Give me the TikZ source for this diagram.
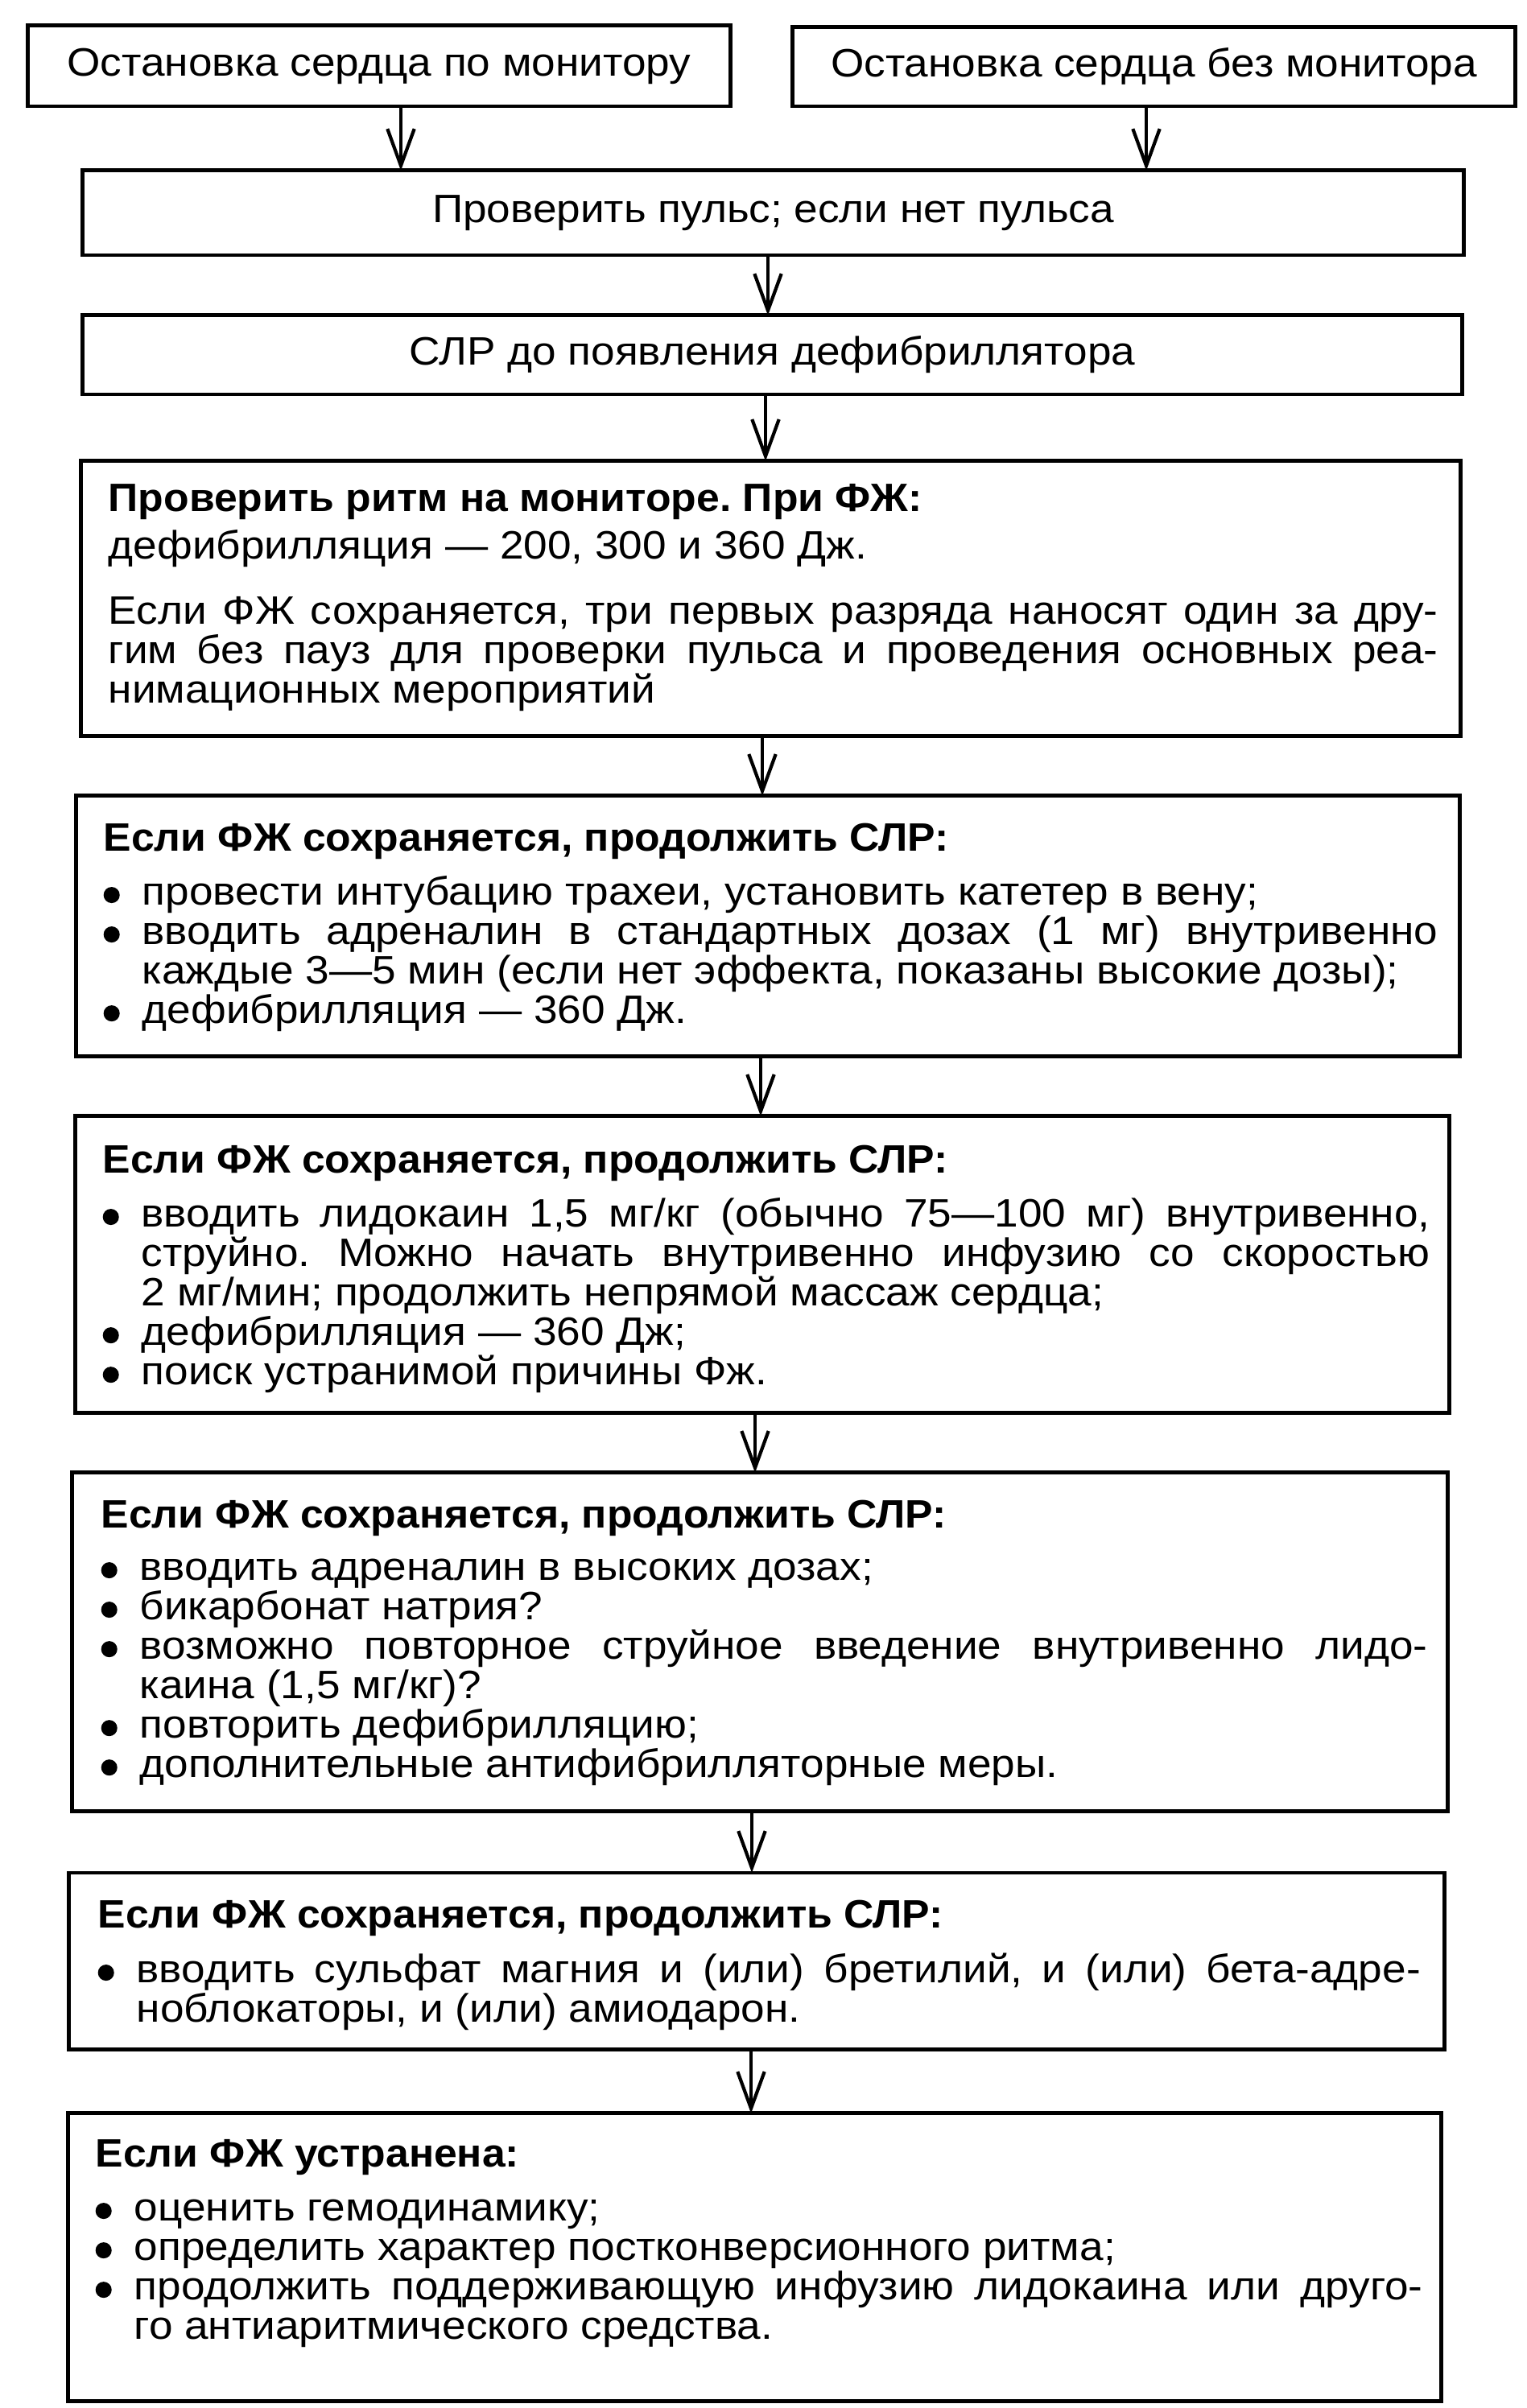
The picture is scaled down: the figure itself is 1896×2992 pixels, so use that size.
\documentclass[tikz,border=0pt]{standalone}
\usepackage{fontspec}
\setmainfont{Liberation Sans}[UprightFeatures={FakeStretch=1.08},BoldFeatures={FakeStretch=1.05}]
\usetikzlibrary{arrows.meta}
\newcommand\bulletdot{\tikz[baseline=0pt]\fill (2.85pt,3.4pt) circle[radius=2.85pt];}
\newcommand\itm{\par\hangindent=0.48cm\hangafter=1\makebox[0.48cm][l]{\bulletdot}}
\begin{document}
\begin{tikzpicture}[x=0.01cm,y=-0.01cm,
  box/.style={draw, line width=1.4pt, inner sep=0pt, outer sep=0pt},
  lbl/.style={font={\fontsize{14pt}{13.94pt}\selectfont}},
  txt/.style={font={\fontsize{14pt}{13.94pt}\selectfont\frenchspacing\lineskiplimit=-100pt\hyphenpenalty=10000\exhyphenpenalty=10000},
              inner sep=0pt, anchor=base west, text width=#1, align=justify},
  arr/.style={line width=1.2pt, -{Straight Barb[length=13pt,width=9.5pt]}}]
\useasboundingbox (0,0) rectangle (1896,2992);
% boxes
\node[box, lbl, minimum width=8.72cm, minimum height=1.00cm] (A) at (471,82) {Остановка сердца по монитору};
\node[box, lbl, minimum width=8.97cm, minimum height=0.98cm] (B) at (1433.5,83) {Остановка сердца без монитора};
\node[box, lbl, minimum width=17.15cm, minimum height=1.05cm] (C) at (960.5,264.5) {Проверить пульс; если нет пульса};
\node[box, lbl, minimum width=17.13cm, minimum height=0.98cm] (D) at (959.5,441) {СЛР до появления дефибриллятора};
\node[box, minimum width=17.13cm, minimum height=3.41cm] (E) at (957.5,743.5) {};
\node[box, minimum width=17.18cm, minimum height=3.23cm] (F) at (954,1150.5) {};
\node[box, minimum width=17.06cm, minimum height=3.68cm] (G) at (947,1571) {};
\node[box, minimum width=17.08cm, minimum height=4.20cm] (H) at (944,2040) {};
\node[box, minimum width=17.08cm, minimum height=2.19cm] (I) at (940,2436.5) {};
\node[box, minimum width=17.05cm, minimum height=3.57cm] (J) at (937.5,2804.5) {};
% texts
\node[txt=16.51cm] (Et) at (134,636) {{\bfseries Проверить ритм на мониторе. При ФЖ:}\par\vspace{0.09cm}
дефибрилляция — 200, 300 и 360 Дж.\par\vspace{0.32cm}
Если ФЖ сохраняется, три первых разряда наносят один за дру-\linebreak
гим без пауз для проверки пульса и проведения основных реа-\linebreak
нимационных мероприятий\par};
\node[txt=16.57cm] (Ft) at (128,1057) {{\bfseries Если ФЖ сохраняется, продолжить СЛР:}\par\vspace{0.18cm}
\itm провести интубацию трахеи, установить катетер в вену;
\itm вводить адреналин в стандартных дозах (1 мг) внутривенно\linebreak
каждые 3—5 мин (если нет эффекта, показаны высокие дозы);
\itm дефибрилляция — 360 Дж.\par};
\node[txt=16.48cm] (Gt) at (127,1457) {{\bfseries Если ФЖ сохраняется, продолжить СЛР:}\par\vspace{0.18cm}
\itm вводить лидокаин 1,5 мг/кг (обычно 75—100 мг) внутривенно,\linebreak
струйно. Можно начать внутривенно инфузию со скоростью\linebreak
2 мг/мин; продолжить непрямой массаж сердца;
\itm дефибрилляция — 360 Дж;
\itm поиск устранимой причины Фж.\par};
\node[txt=16.47cm] (Ht) at (125,1898) {{\bfseries Если ФЖ сохраняется, продолжить СЛР:}\par\vspace{0.16cm}
\itm вводить адреналин в высоких дозах;
\itm бикарбонат натрия?
\itm возможно повторное струйное введение внутривенно лидо-\linebreak
каина (1,5 мг/кг)?
\itm повторить дефибрилляцию;
\itm дополнительные антифибрилляторные меры.\par};
\node[txt=16.42cm] (It) at (121,2395) {{\bfseries Если ФЖ сохраняется, продолжить СЛР:}\par\vspace{0.19cm}
\itm вводить сульфат магния и (или) бретилий, и (или) бета-адре-\linebreak
ноблокаторы, и (или) амиодарон.\par};
\node[txt=16.48cm] (Jt) at (118,2692) {{\bfseries Если ФЖ устранена:}\par\vspace{0.18cm}
\itm оценить гемодинамику;
\itm определить характер постконверсионного ритма;
\itm продолжить поддерживающую инфузию лидокаина или друго-\linebreak
го антиаритмического средства.\par};
% arrows
\draw[arr] (498,0 |- A.south) -- (498,0 |- C.north);
\draw[arr] (1424,0 |- B.south) -- (1424,0 |- C.north);
\draw[arr] (954,0 |- C.south) -- (954,0 |- D.north);
\draw[arr] (951,0 |- D.south) -- (951,0 |- E.north);
\draw[arr] (947,0 |- E.south) -- (947,0 |- F.north);
\draw[arr] (945,0 |- F.south) -- (945,0 |- G.north);
\draw[arr] (938,0 |- G.south) -- (938,0 |- H.north);
\draw[arr] (934,0 |- H.south) -- (934,0 |- I.north);
\draw[arr] (933,0 |- I.south) -- (933,0 |- J.north);
\end{tikzpicture}
\end{document}
